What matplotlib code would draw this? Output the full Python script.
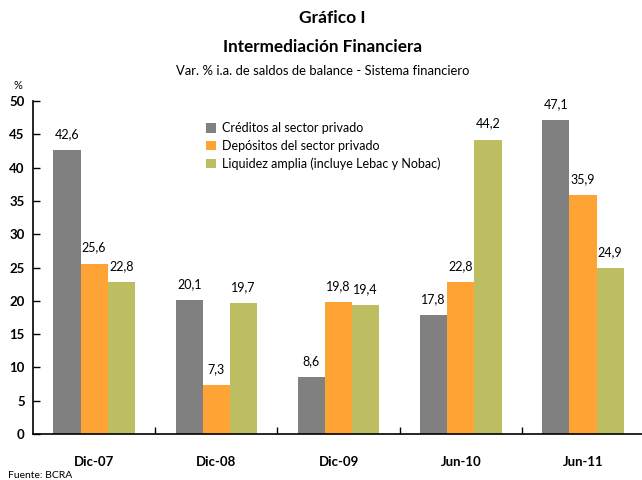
import numpy as np
import matplotlib.pyplot as plt

plt.rcParams['font.family'] = ['Lato', 'DejaVu Sans']

categorias = ['Dic-07', 'Dic-08', 'Dic-09', 'Jun-10', 'Jun-11']
creditos = [42.6, 20.1, 8.6, 17.8, 47.1]
depositos = [25.6, 7.3, 19.8, 22.8, 35.9]
liquidez = [22.8, 19.7, 19.4, 44.2, 24.9]

series = [
    ('Créditos al sector privado', creditos, '#808080'),
    ('Depósitos del sector privado', depositos, '#FFA335'),
    ('Liquidez amplia (incluye Lebac y Nobac)', liquidez, '#BDBE62'),
]

fig = plt.figure(figsize=(6.42, 4.8), dpi=100)
ax = fig.add_axes([0.0514, 0.0958, 0.952, 0.6938])

x = np.arange(len(categorias))
w = 0.222
for i, (nombre, vals, color) in enumerate(series):
    pos = x + (i - 1) * w
    ax.bar(pos, vals, w, color=color, label=nombre)
    for px, v in zip(pos, vals):
        ax.annotate(f'{v:.1f}'.replace('.', ','), (px, v), xytext=(0, 11.5),
                    textcoords='offset points', ha='center', va='center',
                    fontsize=9)

ax.set_xlim(-0.5, 4.5)
ax.set_ylim(0, 50)
ax.set_yticks(range(0, 51, 5))
ax.set_xticks(x + 0.5, minor=False)
ax.set_xticklabels([])
ax.set_xticks(x, minor=True)
ax.set_xticklabels(categorias, minor=True, fontweight='bold', fontsize=9.5)
ax.tick_params(axis='x', which='major', direction='in', length=5, width=1)
ax.tick_params(axis='x', which='minor', length=0, pad=16)
ax.tick_params(axis='y', direction='in', length=5, width=1, pad=6)
for lbl in ax.get_yticklabels():
    lbl.set_fontweight('bold')
    lbl.set_fontsize(9.5)
for s in ['top', 'right']:
    ax.spines[s].set_visible(False)
for s in ['left', 'bottom']:
    ax.spines[s].set_linewidth(1.2)

ax.legend(loc='upper left', bbox_to_anchor=(0.265, 0.97), frameon=False,
          fontsize=9, handlelength=0.8, handleheight=0.8, handletextpad=0.5,
          labelspacing=0.45)

fig.text(0.518, 0.962, 'Gráfico I', ha='center', va='center',
         fontsize=12.5, fontweight='bold')
fig.text(0.502, 0.902, 'Intermediación Financiera', ha='center', va='center',
         fontsize=12.3, fontweight='bold')
fig.text(0.503, 0.852, 'Var. % i.a. de saldos de balance - Sistema financiero',
         ha='center', va='center', fontsize=9.4)
fig.text(0.028, 0.822, '%', ha='center', va='center', fontsize=8)
fig.text(0.013, 0.0, 'Fuente: BCRA', ha='left', va='bottom', fontsize=7.5)

fig.savefig('out.png', dpi=100)
